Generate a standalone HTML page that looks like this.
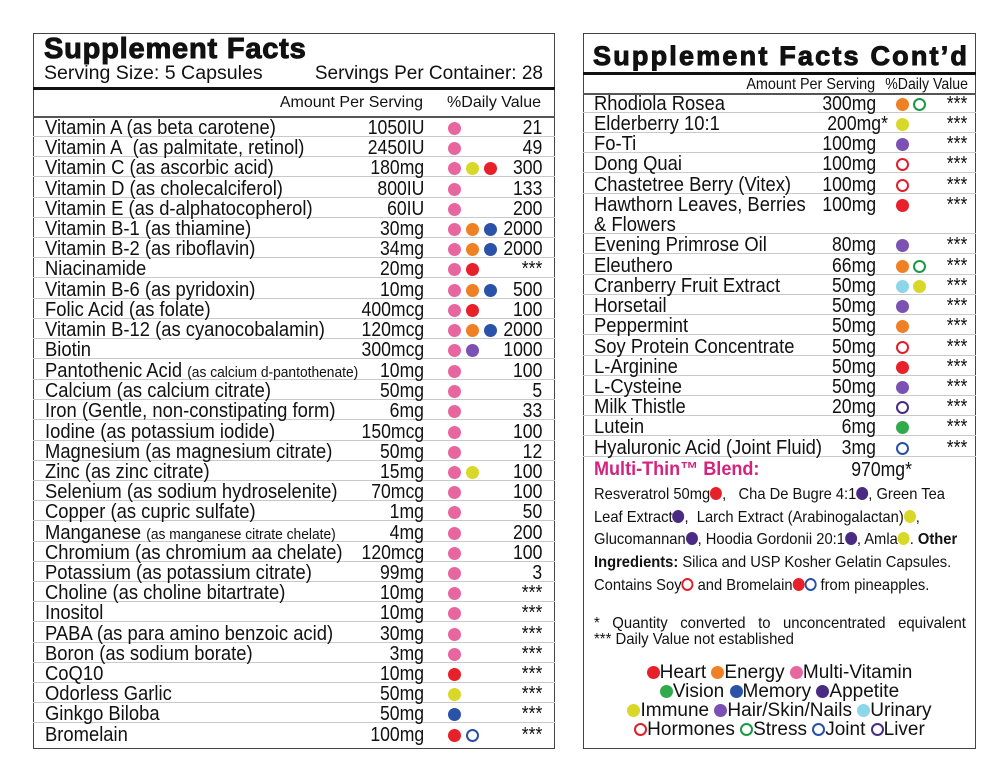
<!DOCTYPE html>
<html><head><meta charset="utf-8"><style>
*{margin:0;padding:0;box-sizing:border-box}
body{width:1000px;height:780px;background:#fff;position:relative;overflow:hidden;font-family:"Liberation Sans",Arial,sans-serif;color:#111}
.p{position:absolute;border:1.5px solid #444}
.t{position:absolute;white-space:nowrap}
.n{position:absolute;left:0;top:0;font-size:20px;line-height:20px;transform:scaleX(.92);transform-origin:left center;white-space:nowrap}
.a{position:absolute;top:0;font-size:20px;line-height:20px;transform:scaleX(.88);transform-origin:right center;white-space:nowrap;text-align:right}
.s{font-size:15px}
.row{position:absolute;height:19px;border-bottom:1.5px solid #c9c9c9}
.d{position:absolute;top:4px;width:13px;height:13px;border-radius:50%}
.o{position:absolute;top:4px;width:13px;height:13px;border-radius:50%;border:2.6px solid}
.idot{display:inline-block;width:13px;height:13px;border-radius:50%;vertical-align:-1px}
.iring{display:inline-block;width:13px;height:13px;border-radius:50%;border:2.6px solid;vertical-align:-1px}
.pk{background:#e8669f}.or{background:#f08024}.rd{background:#e8202a}.ye{background:#d8d828}.bl{background:#2a52a8}.hp{background:#7b52b3}.ap{background:#4b2a83}.gr{background:#30aa4c}.lb{background:#8dd6ea}
.ro{border-color:#e01f2a!important}.go{border-color:#1a9a48!important}.bo{border-color:#2a4fa6!important}.po{border-color:#4b2a83!important}
</style></head><body>

<!-- LEFT PANEL -->
<div class="p" style="left:33px;top:33px;width:522px;height:716px"></div>
<div class="t" style="left:44px;top:33px;font-size:29px;font-weight:900;letter-spacing:.8px;line-height:32px;-webkit-text-stroke:1px #111">Supplement Facts</div>
<div class="t" style="left:44px;top:63px;font-size:19px;line-height:22px;transform:scaleX(1.03);transform-origin:left">Serving Size: 5 Capsules</div>
<div class="t" style="right:457px;top:63px;font-size:19px;line-height:22px;transform:scaleX(1.0);transform-origin:right">Servings Per Container: 28</div>
<div style="position:absolute;left:33px;top:87px;width:522px;height:3px;background:#111"></div>
<div class="t" style="right:577px;top:94px;font-size:16px;line-height:18px">Amount Per Serving</div>
<div class="t" style="right:459px;top:94px;font-size:16px;line-height:18px">%Daily Value</div>
<div style="position:absolute;left:33px;top:116px;width:522px;height:1.5px;background:#555"></div>

<div id="L">
<div class="row" style="left:33px;width:522px;top:118px"><span class="n" style="left:12px">Vitamin A (as beta carotene)</span><span class="a" style="right:131px">1050IU</span><i class="d pk" style="left:415px"></i><span class="a" style="right:13px">21</span></div>
<div class="row" style="left:33px;width:522px;top:138px"><span class="n" style="left:12px">Vitamin A&nbsp; (as palmitate, retinol)</span><span class="a" style="right:131px">2450IU</span><i class="d pk" style="left:415px"></i><span class="a" style="right:13px">49</span></div>
<div class="row" style="left:33px;width:522px;top:158px"><span class="n" style="left:12px">Vitamin C (as ascorbic acid)</span><span class="a" style="right:131px">180mg</span><i class="d pk" style="left:415px"></i><i class="d ye" style="left:433px"></i><i class="d rd" style="left:451px"></i><span class="a" style="right:13px">300</span></div>
<div class="row" style="left:33px;width:522px;top:179px"><span class="n" style="left:12px">Vitamin D (as cholecalciferol)</span><span class="a" style="right:131px">800IU</span><i class="d pk" style="left:415px"></i><span class="a" style="right:13px">133</span></div>
<div class="row" style="left:33px;width:522px;top:199px"><span class="n" style="left:12px">Vitamin E (as d-alphatocopherol)</span><span class="a" style="right:131px">60IU</span><i class="d pk" style="left:415px"></i><span class="a" style="right:13px">200</span></div>
<div class="row" style="left:33px;width:522px;top:219px"><span class="n" style="left:12px">Vitamin B-1 (as thiamine)</span><span class="a" style="right:131px">30mg</span><i class="d pk" style="left:415px"></i><i class="d or" style="left:433px"></i><i class="d bl" style="left:451px"></i><span class="a" style="right:13px">2000</span></div>
<div class="row" style="left:33px;width:522px;top:239px"><span class="n" style="left:12px">Vitamin B-2 (as riboflavin)</span><span class="a" style="right:131px">34mg</span><i class="d pk" style="left:415px"></i><i class="d or" style="left:433px"></i><i class="d bl" style="left:451px"></i><span class="a" style="right:13px">2000</span></div>
<div class="row" style="left:33px;width:522px;top:259px"><span class="n" style="left:12px">Niacinamide</span><span class="a" style="right:131px">20mg</span><i class="d pk" style="left:415px"></i><i class="d rd" style="left:433px"></i><span class="a" style="right:13px">***</span></div>
<div class="row" style="left:33px;width:522px;top:280px"><span class="n" style="left:12px">Vitamin B-6 (as pyridoxin)</span><span class="a" style="right:131px">10mg</span><i class="d pk" style="left:415px"></i><i class="d or" style="left:433px"></i><i class="d bl" style="left:451px"></i><span class="a" style="right:13px">500</span></div>
<div class="row" style="left:33px;width:522px;top:300px"><span class="n" style="left:12px">Folic Acid (as folate)</span><span class="a" style="right:131px">400mcg</span><i class="d pk" style="left:415px"></i><i class="d rd" style="left:433px"></i><span class="a" style="right:13px">100</span></div>
<div class="row" style="left:33px;width:522px;top:320px"><span class="n" style="left:12px">Vitamin B-12 (as cyanocobalamin)</span><span class="a" style="right:131px">120mcg</span><i class="d pk" style="left:415px"></i><i class="d or" style="left:433px"></i><i class="d bl" style="left:451px"></i><span class="a" style="right:13px">2000</span></div>
<div class="row" style="left:33px;width:522px;top:340px"><span class="n" style="left:12px">Biotin</span><span class="a" style="right:131px">300mcg</span><i class="d pk" style="left:415px"></i><i class="d hp" style="left:433px"></i><span class="a" style="right:13px">1000</span></div>
<div class="row" style="left:33px;width:522px;top:361px"><span class="n" style="left:12px">Pantothenic Acid <span class="s">(as calcium d-pantothenate)</span></span><span class="a" style="right:131px">10mg</span><i class="d pk" style="left:415px"></i><span class="a" style="right:13px">100</span></div>
<div class="row" style="left:33px;width:522px;top:381px"><span class="n" style="left:12px">Calcium (as calcium citrate)</span><span class="a" style="right:131px">50mg</span><i class="d pk" style="left:415px"></i><span class="a" style="right:13px">5</span></div>
<div class="row" style="left:33px;width:522px;top:401px"><span class="n" style="left:12px">Iron (Gentle, non-constipating form)</span><span class="a" style="right:131px">6mg</span><i class="d pk" style="left:415px"></i><span class="a" style="right:13px">33</span></div>
<div class="row" style="left:33px;width:522px;top:422px"><span class="n" style="left:12px">Iodine (as potassium iodide)</span><span class="a" style="right:131px">150mcg</span><i class="d pk" style="left:415px"></i><span class="a" style="right:13px">100</span></div>
<div class="row" style="left:33px;width:522px;top:442px"><span class="n" style="left:12px">Magnesium (as magnesium citrate)</span><span class="a" style="right:131px">50mg</span><i class="d pk" style="left:415px"></i><span class="a" style="right:13px">12</span></div>
<div class="row" style="left:33px;width:522px;top:462px"><span class="n" style="left:12px">Zinc (as zinc citrate)</span><span class="a" style="right:131px">15mg</span><i class="d pk" style="left:415px"></i><i class="d ye" style="left:433px"></i><span class="a" style="right:13px">100</span></div>
<div class="row" style="left:33px;width:522px;top:482px"><span class="n" style="left:12px">Selenium (as sodium hydroselenite)</span><span class="a" style="right:131px">70mcg</span><i class="d pk" style="left:415px"></i><span class="a" style="right:13px">100</span></div>
<div class="row" style="left:33px;width:522px;top:502px"><span class="n" style="left:12px">Copper (as cupric sulfate)</span><span class="a" style="right:131px">1mg</span><i class="d pk" style="left:415px"></i><span class="a" style="right:13px">50</span></div>
<div class="row" style="left:33px;width:522px;top:523px"><span class="n" style="left:12px">Manganese <span class="s">(as manganese citrate chelate)</span></span><span class="a" style="right:131px">4mg</span><i class="d pk" style="left:415px"></i><span class="a" style="right:13px">200</span></div>
<div class="row" style="left:33px;width:522px;top:543px"><span class="n" style="left:12px">Chromium (as chromium aa chelate)</span><span class="a" style="right:131px">120mcg</span><i class="d pk" style="left:415px"></i><span class="a" style="right:13px">100</span></div>
<div class="row" style="left:33px;width:522px;top:563px"><span class="n" style="left:12px">Potassium (as potassium citrate)</span><span class="a" style="right:131px">99mg</span><i class="d pk" style="left:415px"></i><span class="a" style="right:13px">3</span></div>
<div class="row" style="left:33px;width:522px;top:583px"><span class="n" style="left:12px">Choline (as choline bitartrate)</span><span class="a" style="right:131px">10mg</span><i class="d pk" style="left:415px"></i><span class="a" style="right:13px">***</span></div>
<div class="row" style="left:33px;width:522px;top:603px"><span class="n" style="left:12px">Inositol</span><span class="a" style="right:131px">10mg</span><i class="d pk" style="left:415px"></i><span class="a" style="right:13px">***</span></div>
<div class="row" style="left:33px;width:522px;top:624px"><span class="n" style="left:12px">PABA (as para amino benzoic acid)</span><span class="a" style="right:131px">30mg</span><i class="d pk" style="left:415px"></i><span class="a" style="right:13px">***</span></div>
<div class="row" style="left:33px;width:522px;top:644px"><span class="n" style="left:12px">Boron (as sodium borate)</span><span class="a" style="right:131px">3mg</span><i class="d pk" style="left:415px"></i><span class="a" style="right:13px">***</span></div>
<div class="row" style="left:33px;width:522px;top:664px"><span class="n" style="left:12px">CoQ10</span><span class="a" style="right:131px">10mg</span><i class="d rd" style="left:415px"></i><span class="a" style="right:13px">***</span></div>
<div class="row" style="left:33px;width:522px;top:684px"><span class="n" style="left:12px">Odorless Garlic</span><span class="a" style="right:131px">50mg</span><i class="d ye" style="left:415px"></i><span class="a" style="right:13px">***</span></div>
<div class="row" style="left:33px;width:522px;top:704px"><span class="n" style="left:12px">Ginkgo Biloba</span><span class="a" style="right:131px">50mg</span><i class="d bl" style="left:415px"></i><span class="a" style="right:13px">***</span></div>
<div class="row" style="left:33px;width:522px;top:725px;border-bottom:none"><span class="n" style="left:12px">Bromelain</span><span class="a" style="right:131px">100mg</span><i class="d rd" style="left:415px"></i><i class="o bo" style="left:433px"></i><span class="a" style="right:13px">***</span></div>
</div>

<!-- RIGHT PANEL -->
<div class="p" style="left:583px;top:33px;width:393px;height:716px"></div>
<div class="t" style="left:593px;top:40px;font-size:27px;font-weight:900;letter-spacing:2.2px;line-height:32px;-webkit-text-stroke:1px #111">Supplement Facts Cont’d</div>
<div style="position:absolute;left:583px;top:72px;width:393px;height:3px;background:#111"></div>
<div class="t" style="right:125px;top:76px;font-size:16px;line-height:18px;transform:scaleX(.9);transform-origin:right">Amount Per Serving</div>
<div class="t" style="right:32px;top:76px;font-size:16px;line-height:18px;transform:scaleX(.88);transform-origin:right">%Daily Value</div>
<div style="position:absolute;left:583px;top:93px;width:393px;height:1.5px;background:#555"></div>

<div class="row" style="left:583px;width:393px;top:94px"><span class="n" style="left:11px">Rhodiola Rosea</span><span class="a" style="right:100px">300mg</span><i class="d or" style="left:313px"></i><i class="o go" style="left:330px"></i><span class="a" style="right:9px">***</span></div>
<div class="row" style="left:583px;width:393px;top:114px"><span class="n" style="left:11px">Elderberry 10:1</span><span class="a" style="right:88px">200mg*</span><i class="d ye" style="left:313px"></i><span class="a" style="right:9px">***</span></div>
<div class="row" style="left:583px;width:393px;top:134px"><span class="n" style="left:11px">Fo-Ti</span><span class="a" style="right:100px">100mg</span><i class="d hp" style="left:313px"></i><span class="a" style="right:9px">***</span></div>
<div class="row" style="left:583px;width:393px;top:154px"><span class="n" style="left:11px">Dong Quai</span><span class="a" style="right:100px">100mg</span><i class="o ro" style="left:313px"></i><span class="a" style="right:9px">***</span></div>
<div class="row" style="left:583px;width:393px;top:175px"><span class="n" style="left:11px">Chastetree Berry (Vitex)</span><span class="a" style="right:100px">100mg</span><i class="o ro" style="left:313px"></i><span class="a" style="right:9px">***</span></div>
<div class="row" style="left:583px;width:393px;top:195px;height:39px"><span class="n" style="left:11px">Hawthorn Leaves, Berries</span><span class="n" style="left:11px;top:20px">&amp; Flowers</span><span class="a" style="right:100px">100mg</span><i class="d rd" style="left:313px"></i><span class="a" style="right:9px">***</span></div>
<div class="row" style="left:583px;width:393px;top:235px"><span class="n" style="left:11px">Evening Primrose Oil</span><span class="a" style="right:100px">80mg</span><i class="d hp" style="left:313px"></i><span class="a" style="right:9px">***</span></div>
<div class="row" style="left:583px;width:393px;top:256px"><span class="n" style="left:11px">Eleuthero</span><span class="a" style="right:100px">66mg</span><i class="d or" style="left:313px"></i><i class="o go" style="left:330px"></i><span class="a" style="right:9px">***</span></div>
<div class="row" style="left:583px;width:393px;top:276px"><span class="n" style="left:11px">Cranberry Fruit Extract</span><span class="a" style="right:100px">50mg</span><i class="d lb" style="left:313px"></i><i class="d ye" style="left:330px"></i><span class="a" style="right:9px">***</span></div>
<div class="row" style="left:583px;width:393px;top:296px"><span class="n" style="left:11px">Horsetail</span><span class="a" style="right:100px">50mg</span><i class="d hp" style="left:313px"></i><span class="a" style="right:9px">***</span></div>
<div class="row" style="left:583px;width:393px;top:316px"><span class="n" style="left:11px">Peppermint</span><span class="a" style="right:100px">50mg</span><i class="d or" style="left:313px"></i><span class="a" style="right:9px">***</span></div>
<div class="row" style="left:583px;width:393px;top:337px"><span class="n" style="left:11px">Soy Protein Concentrate</span><span class="a" style="right:100px">50mg</span><i class="o ro" style="left:313px"></i><span class="a" style="right:9px">***</span></div>
<div class="row" style="left:583px;width:393px;top:357px"><span class="n" style="left:11px">L-Arginine</span><span class="a" style="right:100px">50mg</span><i class="d rd" style="left:313px"></i><span class="a" style="right:9px">***</span></div>
<div class="row" style="left:583px;width:393px;top:377px"><span class="n" style="left:11px">L-Cysteine</span><span class="a" style="right:100px">50mg</span><i class="d hp" style="left:313px"></i><span class="a" style="right:9px">***</span></div>
<div class="row" style="left:583px;width:393px;top:397px"><span class="n" style="left:11px">Milk Thistle</span><span class="a" style="right:100px">20mg</span><i class="o po" style="left:313px"></i><span class="a" style="right:9px">***</span></div>
<div class="row" style="left:583px;width:393px;top:417px"><span class="n" style="left:11px">Lutein</span><span class="a" style="right:100px">6mg</span><i class="d gr" style="left:313px"></i><span class="a" style="right:9px">***</span></div>
<div class="row" style="left:583px;width:393px;top:438px"><span class="n" style="left:11px">Hyaluronic Acid (Joint Fluid)</span><span class="a" style="right:100px">3mg</span><i class="o bo" style="left:313px"></i><span class="a" style="right:9px">***</span></div>

<div class="t" style="left:594px;top:460px;font-size:19px;line-height:20px;font-weight:bold;color:#d4237f;transform:scaleX(.95);transform-origin:left">Multi-Thin™ Blend:</div>
<div class="t" style="right:88px;top:460px;font-size:20px;line-height:20px;transform:scaleX(.88);transform-origin:right">970mg*</div>

<div style="position:absolute;left:594px;top:484px;width:430px;font-size:16px;line-height:22.7px;transform:scaleX(.92);transform-origin:left top;white-space:nowrap">
Resveratrol 50mg<i class="idot rd"></i>,&nbsp;&nbsp; Cha De Bugre 4:1<i class="idot ap"></i>, Green Tea<br>
Leaf Extract<i class="idot ap"></i>,&nbsp; Larch Extract (Arabinogalactan)<i class="idot ye"></i>,<br>
Glucomannan<i class="idot ap"></i>, Hoodia Gordonii 20:1<i class="idot ap"></i>, Amla<i class="idot ye"></i>. <b>Other</b><br>
<b>Ingredients:</b> Silica and USP Kosher Gelatin Capsules.<br>
Contains Soy<i class="iring ro"></i> and Bromelain<i class="idot rd"></i><i class="iring bo"></i> from pineapples.
</div>

<div class="t" style="left:594px;top:616px;font-size:16px;line-height:16px;transform:scaleX(.93);transform-origin:left;word-spacing:9px">* Quantity converted to unconcentrated equivalent</div>
<div class="t" style="left:594px;top:632px;font-size:16px;line-height:16px;transform:scaleX(.93);transform-origin:left">*** Daily Value not established</div>

<div style="position:absolute;left:583px;top:663px;width:393px;font-size:19px;line-height:19px;text-align:center;white-space:nowrap">
<div><i class="idot rd"></i>Heart <i class="idot or"></i>Energy <i class="idot pk"></i>Multi-Vitamin</div>
<div><i class="idot gr"></i>Vision <i class="idot bl"></i>Memory <i class="idot ap"></i>Appetite</div>
<div><i class="idot ye"></i>Immune <i class="idot hp"></i>Hair/Skin/Nails <i class="idot lb"></i>Urinary</div>
<div><i class="iring ro"></i>Hormones <i class="iring go"></i>Stress <i class="iring bo"></i>Joint <i class="iring po"></i>Liver</div>
</div>
</body></html>
